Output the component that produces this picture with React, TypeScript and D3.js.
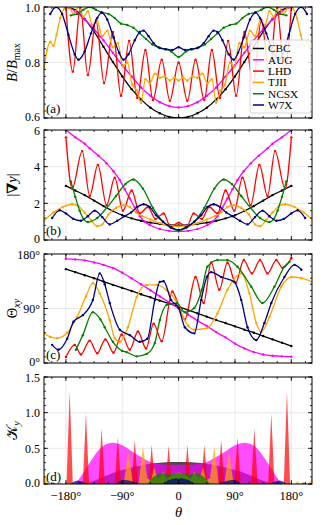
import * as d3 from 'd3';
import { useEffect, useRef } from 'react';

type Pt = [number, number];

const seriesNames = ['CBC', 'AUG', 'LHD', 'TJII', 'NCSX', 'W7X'];
const seriesColors = ['#000000', '#ff00ff', '#ff0000', '#ffa500', '#008000', '#000080'];

const thetaTicks = [-180, -90, 0, 90, 180];
const thetaTickLabels = ['\u2212180°', '\u221290°', '0', '90°', '180°'];

// (a) B/Bmax
const cbcB: Pt[] = [[-180,1.0],[-165,0.989],[-150,0.957],[-135,0.911],[-120,0.857],[-105,0.802],[-90,0.75],[-75,0.704],[-60,0.667],[-45,0.637],[-30,0.617],[-15,0.604],[0,0.6],[15,0.604],[30,0.617],[45,0.637],[60,0.667],[75,0.704],[90,0.75],[105,0.802],[120,0.857],[135,0.911],[150,0.957],[165,0.989],[180,1.0]];
const augB: Pt[] = [[-180,1.0],[-165,0.985],[-150,0.955],[-135,0.92],[-120,0.88],[-105,0.835],[-90,0.79],[-75,0.75],[-60,0.71],[-45,0.68],[-30,0.657],[-15,0.643],[0,0.638],[15,0.643],[30,0.657],[45,0.68],[60,0.71],[75,0.75],[90,0.79],[105,0.835],[120,0.88],[135,0.92],[150,0.955],[165,0.985],[180,1.0]];
const lhdB: Pt[] = [[-180,1.0],[-169,0.767],[-157,1.0],[-145,0.755],[-132,0.953],[-119,0.726],[-105,0.91],[-92,0.68],[-79,0.878],[-66,0.672],[-53,0.845],[-41,0.665],[-27,0.81],[-14,0.662],[0,0.8],[14,0.662],[27,0.81],[41,0.665],[53,0.845],[66,0.672],[79,0.878],[92,0.68],[105,0.91],[119,0.726],[132,0.953],[145,0.755],[157,1.0],[169,0.767],[180,1.0]];
const tjiiB: Pt[] = [[-215,0.78],[-210,0.845],[-205,0.875],[-200,0.86],[-195,0.9],[-189,0.96],[-182,0.995],[-175,1.0],[-168,0.975],[-160,1.0],[-152,0.965],[-145,0.985],[-138,0.935],[-130,0.95],[-122,0.895],[-114,0.915],[-105,0.855],[-97,0.87],[-89,0.785],[-82,0.8],[-74,0.72],[-67,0.7],[-60,0.655],[-53,0.74],[-46,0.725],[-38,0.76],[-30,0.745],[-22,0.75],[-14,0.735],[-7,0.745],[0,0.735],[7,0.745],[14,0.735],[22,0.75],[30,0.745],[38,0.76],[46,0.725],[53,0.74],[60,0.655],[67,0.7],[74,0.72],[82,0.8],[89,0.785],[97,0.87],[105,0.855],[114,0.915],[122,0.895],[130,0.95],[138,0.935],[145,0.985],[152,0.965],[160,1.0],[168,0.975],[175,1.0],[182,0.995],[189,0.96],[195,0.9],[200,0.86],[205,0.875],[210,0.845],[215,0.78]];
const ncsxB: Pt[] = [[-172,0.97],[-162,0.975],[-152,0.99],[-142,1.0],[-132,0.99],[-122,0.98],[-112,0.975],[-102,0.96],[-92,0.94],[-82,0.935],[-72,0.925],[-62,0.905],[-52,0.885],[-42,0.865],[-32,0.855],[-22,0.848],[-12,0.84],[0,0.82],[12,0.84],[22,0.848],[32,0.855],[42,0.865],[52,0.885],[62,0.905],[72,0.925],[82,0.935],[92,0.94],[102,0.96],[112,0.975],[122,0.98],[132,0.99],[142,1.0],[152,0.99],[162,0.975],[172,0.97]];
const w7xB: Pt[] = [[-205,0.975],[-196,1.0],[-186,0.975],[-176,0.9],[-166,0.83],[-160,0.81],[-150,0.84],[-140,0.905],[-130,0.96],[-123,0.98],[-114,0.955],[-104,0.89],[-95,0.835],[-88,0.81],[-80,0.83],[-70,0.88],[-62,0.91],[-56,0.915],[-48,0.895],[-40,0.87],[-30,0.852],[-20,0.848],[-10,0.845],[0,0.855],[10,0.845],[20,0.848],[30,0.852],[40,0.87],[48,0.895],[56,0.915],[62,0.91],[70,0.88],[80,0.83],[88,0.81],[95,0.835],[104,0.89],[114,0.955],[123,0.98],[130,0.96],[140,0.905],[150,0.84],[160,0.81],[166,0.83],[176,0.9],[186,0.975],[196,1.0],[205,0.975]];

// (b) |grad y|
const cbcGrad: Pt[] = [[-180,2.95],[-165,2.7],[-150,2.45],[-135,2.15],[-120,1.85],[-105,1.58],[-90,1.35],[-75,1.18],[-60,1.05],[-45,0.95],[-30,0.87],[-15,0.82],[0,0.8],[15,0.82],[30,0.87],[45,0.95],[60,1.05],[75,1.18],[90,1.35],[105,1.58],[120,1.85],[135,2.15],[150,2.45],[165,2.7],[180,2.95]];
const augGrad: Pt[] = [[-180,6.0],[-165,5.6],[-150,5.25],[-142,5.0],[-128,4.6],[-115,4.18],[-104,3.75],[-94,3.27],[-86,2.77],[-78,2.27],[-70,1.77],[-62,1.3],[-54,1.0],[-46,0.82],[-30,0.6],[-15,0.5],[0,0.47],[15,0.5],[30,0.6],[46,0.82],[54,1.0],[62,1.3],[70,1.77],[78,2.27],[86,2.77],[94,3.27],[104,3.75],[115,4.18],[128,4.6],[142,5.0],[150,5.25],[165,5.6],[180,6.0]];
const lhdGrad: Pt[] = [[-180,5.6],[-170,2.8],[-154,4.85],[-142,2.4],[-129,4.1],[-115,1.9],[-102,3.4],[-89,1.6],[-75,2.7],[-62,1.45],[-49,1.8],[-37,1.15],[-24,1.45],[-13,0.72],[0,0.95],[13,0.72],[24,1.45],[37,1.15],[49,1.8],[62,1.45],[75,2.7],[89,1.6],[102,3.4],[115,1.9],[129,4.1],[142,2.4],[154,4.85],[170,2.8],[180,5.6]];
const tjiiGrad: Pt[] = [[-215,1.05],[-200,1.5],[-185,1.8],[-170,1.95],[-160,1.85],[-150,1.5],[-140,1.1],[-130,0.75],[-122,0.85],[-112,1.4],[-100,1.75],[-88,1.9],[-78,1.8],[-68,1.5],[-58,1.3],[-45,1.12],[-30,0.92],[-15,0.78],[0,0.74],[15,0.78],[30,0.92],[45,1.12],[58,1.3],[68,1.5],[78,1.8],[88,1.9],[100,1.75],[112,1.4],[122,0.85],[130,0.75],[140,1.1],[150,1.5],[160,1.85],[170,1.95],[185,1.8],[200,1.5],[215,1.05]];
const ncsxGrad: Pt[] = [[-172,3.2],[-165,2.35],[-158,1.6],[-152,1.15],[-145,0.98],[-130,1.2],[-115,1.75],[-100,2.4],[-85,3.05],[-72,3.3],[-57,2.8],[-41,1.75],[-25,1.0],[-12,0.65],[0,0.52],[12,0.65],[25,1.0],[41,1.75],[57,2.8],[72,3.3],[85,3.05],[100,2.4],[115,1.75],[130,1.2],[145,0.98],[152,1.15],[158,1.6],[165,2.35],[172,3.2]];
const w7xGrad: Pt[] = [[-202,1.2],[-190,1.62],[-180,1.45],[-168,1.15],[-156,1.05],[-145,1.3],[-134,1.6],[-122,1.25],[-110,0.85],[-98,1.05],[-86,1.3],[-76,1.5],[-66,1.8],[-56,1.95],[-46,1.8],[-36,1.35],[-25,1.0],[-12,0.7],[0,0.55],[12,0.7],[25,1.0],[36,1.35],[46,1.8],[56,1.95],[66,1.8],[76,1.5],[86,1.3],[98,1.05],[110,0.85],[122,1.25],[134,1.6],[145,1.3],[156,1.05],[168,1.15],[180,1.45],[190,1.62],[202,1.2]];

// (c) Theta_xy in degrees
const cbcTheta: Pt[] = [[-180,155],[-165,150],[-150,145],[-135,140],[-120,134.5],[-105,129],[-90,124],[-75,119],[-60,113.5],[-45,108.5],[-30,103],[-15,98],[0,93],[15,87.5],[30,82],[45,76.5],[60,71],[75,66],[90,60.5],[105,55],[120,50],[135,44.5],[150,39],[165,33.5],[180,28]];
const augTheta: Pt[] = [[-180,172],[-165,171],[-150,169.5],[-135,166],[-120,162],[-105,157],[-90,149],[-75,140],[-60,130],[-45,120],[-30,110],[-15,100],[0,90],[15,80],[30,70],[45,61],[60,51],[75,42],[90,32],[105,24],[120,18],[135,14],[150,12],[165,11],[180,10.5]];
const lhdTheta: Pt[] = [[-180,10],[-166,30],[-156,14],[-142,37],[-130,16],[-117,39],[-104,17],[-91,47],[-78,22],[-65,52],[-52,24],[-40,65],[-27,36],[-10,118],[0,95],[10,72],[27,142],[40,99],[52,166],[65,121],[78,166],[91,132],[104,170],[117,148],[130,170],[142,148],[156,170],[166,157],[180,173]];
const tjiiTheta: Pt[] = [[-215,49],[-205,43],[-194,41],[-178,50],[-162,76],[-148,110],[-137,132],[-126,115],[-110,71],[-102,41],[-94,35],[-81,59],[-67,109],[-51,129],[-35,129],[-19,120],[-5,104],[5,80],[15,62],[25,55],[46,58],[62,82],[78,121],[100,148],[113,115],[124,66],[132,51],[145,76],[164,126],[180,142],[196,140],[213,134]];
const ncsxTheta: Pt[] = [[-164,22],[-153,46],[-137,84],[-125,72],[-118,59],[-105,35],[-90,20],[-83,18],[-67,11],[-51,15],[-38,33],[-30,71],[-19,96],[-3,99],[10,84],[25,91],[37,121],[46,159],[62,170],[78,170],[94,159],[116,126],[134,99],[153,126],[169,159],[177,167]];
const w7xTheta: Pt[] = [[-202,30],[-192,22],[-178,40],[-168,68],[-153,79],[-137,104],[-126,148],[-118,130],[-110,99],[-94,55],[-78,46],[-62,35],[-50,40],[-38,104],[-30,134],[-24,135],[-12,104],[0,91],[10,59],[25,49],[36,104],[45,142],[52,150],[68,142],[89,134],[100,104],[110,59],[124,38],[137,66],[148,99],[169,142],[185,162],[196,154]];

// (d) K_y (filled)
const cbcK: Pt[] = [[-155,0],[-140,0.03],[-120,0.1],[-100,0.17],[-80,0.22],[-60,0.26],[-40,0.29],[-20,0.305],[0,0.31],[20,0.305],[40,0.29],[60,0.26],[80,0.22],[100,0.17],[120,0.1],[140,0.03],[155,0]];
const augK: Pt[] = [[-165,0],[-155,0.12],[-145,0.26],[-135,0.39],[-125,0.5],[-115,0.56],[-104,0.58],[-95,0.56],[-85,0.52],[-75,0.46],[-60,0.38],[-45,0.31],[-30,0.28],[-15,0.27],[0,0.27],[15,0.27],[30,0.28],[45,0.31],[60,0.38],[75,0.46],[85,0.52],[95,0.56],[104,0.58],[115,0.56],[125,0.5],[135,0.39],[145,0.26],[155,0.12],[165,0]];
const lhdSpikeTheta = [-174, -148, -123, -97, -70, -43, -16, 14, 41, 68, 94, 121, 148, 173];
const lhdSpikeK = [1.3, 0.99, 0.78, 0.66, 0.62, 0.55, 0.54, 0.55, 0.55, 0.62, 0.66, 0.78, 0.99, 1.3];
const tjiiK: Pt[] = [[-215,0.14],[-211,0.05],[-207,0],[-194,0],[-190,0.04],[-186,0],[-88,0],[-80,0.45],[-73,0],[-64,0],[-57,0.53],[-50,0.08],[-44,0.05],[-39,0.24],[-34,0.08],[-30,0.1],[-25,0.17],[-19,0.07],[-11,0.13],[0,0.16],[11,0.13],[19,0.07],[25,0.17],[30,0.1],[34,0.08],[39,0.24],[44,0.05],[50,0.08],[57,0.53],[64,0],[73,0],[80,0.45],[88,0],[186,0],[190,0.04],[194,0],[207,0],[211,0.05],[215,0.14]];
const ncsxK: Pt[] = [[-50,0],[-45,0.06],[-40,0.1],[-32,0.14],[-25,0.15],[-18,0.13],[-10,0.14],[0,0.15],[10,0.14],[18,0.13],[25,0.15],[32,0.14],[40,0.1],[45,0.06],[50,0]];
const w7xK: Pt[] = [[-205,0],[-200,0.02],[-195,0],[-172,0],[-168,0.03],[-162,0.05],[-156,0.04],[-150,0.02],[-144,0],[-100,0],[-95,0.04],[-88,0.06],[-80,0.05],[-72,0.03],[-66,0],[-25,0],[-18,0.05],[-10,0.07],[-4,0.08],[0,0.07],[4,0.08],[10,0.07],[18,0.05],[25,0],[66,0],[72,0.03],[80,0.05],[88,0.06],[95,0.04],[100,0],[144,0],[150,0.02],[156,0.04],[162,0.05],[168,0.03],[172,0],[195,0],[200,0.02],[205,0]];

const yTicksA = [0.6, 0.8, 1.0];
const yLabelsA = ['0.6', '0.8', '1.0'];
const yTicksB = [0, 2, 4, 6];
const yLabelsB = ['0', '2', '4', '6'];
const yTicksC = [0, 90, 180];
const yLabelsC = ['0°', '90°', '180°'];
const yTicksD = [0, 0.5, 1.0, 1.5];
const yLabelsD = ['0.0', '0.5', '1.0', '1.5'];

const FONT = "'Liberation Serif', 'DejaVu Serif', serif";

export default function App() {
  const svgRef = useRef<SVGSVGElement>(null);

  useEffect(() => {
    if (svgRef.current) drawChart(svgRef.current);
  }, []);

  return (
    <svg ref={svgRef} width={324} height={525}
      style={{ position: 'absolute', left: 0, top: 0, background: 'white' }} />
  );
}

function drawChart(node: SVGSVGElement) {
  const svg = d3.select(node);
  svg.selectAll('*').remove();

  const x = d3.scaleLinear().domain([-215, 213]).range([44, 312]);
  const L = 44, R = 312;

  const spikes: Pt[] = lhdSpikeTheta.flatMap((t, i) => [[t - 5, 0], [t, lhdSpikeK[i]], [t + 5, 0]] as Pt[]);

  const panels = [
    { id: 'a', top: 7, bottom: 118, domain: [0.6, 1.0], ticks: yTicksA, labels: yLabelsA, minor: 0.025, grid: [0.8],
      tag: '(a)', tagY: 113, kind: 'line', data: [cbcB, augB, lhdB, tjiiB, ncsxB, w7xB],
      ylab: [{ t: 'B', i: true }, { t: '/' }, { t: 'B', i: true }, { t: 'max', sub: true }] },
    { id: 'b', top: 130, bottom: 240, domain: [0, 6], ticks: yTicksB, labels: yLabelsB, minor: 0.4, grid: [2, 4],
      tag: '(b)', tagY: 235, kind: 'line', data: [cbcGrad, augGrad, lhdGrad, tjiiGrad, ncsxGrad, w7xGrad],
      ylab: [{ t: '|' }, { t: '\u2207', b: true }, { t: 'y', i: true }, { t: '|' }] },
    { id: 'c', top: 254, bottom: 363, domain: [0, 180], ticks: yTicksC, labels: yLabelsC, minor: 10, grid: [90],
      tag: '(c)', tagY: 359, kind: 'line', data: [cbcTheta, augTheta, lhdTheta, tjiiTheta, ncsxTheta, w7xTheta],
      ylab: [{ t: '\u0398' }, { t: 'xy', i: true, sub: true }] },
    { id: 'd', top: 377, bottom: 484, domain: [0, 1.5], ticks: yTicksD, labels: yLabelsD, minor: 0.1, grid: [0.5, 1.0],
      tag: '(d)', tagY: 481, kind: 'area', data: [cbcK, augK, spikes, tjiiK, ncsxK, w7xK],
      ylab: [{ t: '\uD835\uDCA6' }, { t: 'y', i: true, sub: true }] },
  ];

  const xMinor = d3.range(-202.5, 203, 22.5);

  panels.forEach(p => {
    const y = d3.scaleLinear().domain(p.domain).range([p.bottom, p.top]);
    const g = svg.append('g');

    g.append('clipPath').attr('id', 'clip-' + p.id)
      .append('rect').attr('x', L).attr('y', p.top).attr('width', R - L).attr('height', p.bottom - p.top);

    // grid
    g.selectAll('.gx').data(thetaTicks).enter().append('line')
      .attr('x1', d => x(d)).attr('x2', d => x(d)).attr('y1', p.top).attr('y2', p.bottom)
      .attr('stroke', '#e3e3e3').attr('stroke-width', 0.8);
    g.selectAll('.gy').data(p.grid).enter().append('line')
      .attr('x1', L).attr('x2', R).attr('y1', d => y(d)).attr('y2', d => y(d))
      .attr('stroke', '#e3e3e3').attr('stroke-width', 0.8);

    // panel tag
    g.append('text').attr('x', 46).attr('y', p.tagY).text(p.tag)
      .attr('font-family', FONT).attr('font-size', 13);

    const plot = g.append('g').attr('clip-path', `url(#clip-${p.id})`);

    if (p.kind === 'line') {
      const line = d3.line<Pt>().x(d => x(d[0])).y(d => y(d[1])).curve(d3.curveMonotoneX);
      p.data.forEach((s, i) => {
        plot.append('path').datum(s).attr('d', line)
          .attr('fill', 'none').attr('stroke', seriesColors[i]).attr('stroke-width', 1.3);
        plot.selectAll(null).data(s).enter().append('circle')
          .attr('cx', d => x(d[0])).attr('cy', d => y(d[1])).attr('r', 1.2)
          .attr('fill', seriesColors[i]);
      });
    } else {
      p.data.forEach((s, i) => {
        const smooth = i === 0 || i === 1 || i === 4;
        const area = d3.area<Pt>().x(d => x(d[0])).y0(y(0)).y1(d => y(d[1]))
          .curve(smooth ? d3.curveMonotoneX : d3.curveLinear);
        plot.append('path').datum(s).attr('d', area)
          .attr('fill', seriesColors[i]).attr('fill-opacity', 0.7);
      });
    }

    // frame
    g.append('rect').attr('x', L).attr('y', p.top).attr('width', R - L).attr('height', p.bottom - p.top)
      .attr('fill', 'none').attr('stroke', 'black').attr('stroke-width', 1);

    // x ticks (inward, bottom + top)
    const tk = g.append('g').attr('stroke', 'black').attr('stroke-width', 0.8);
    thetaTicks.forEach(t => {
      tk.append('line').attr('x1', x(t)).attr('x2', x(t)).attr('y1', p.bottom).attr('y2', p.bottom - 4);
      tk.append('line').attr('x1', x(t)).attr('x2', x(t)).attr('y1', p.top).attr('y2', p.top + 4);
    });
    xMinor.forEach(t => {
      tk.append('line').attr('x1', x(t)).attr('x2', x(t)).attr('y1', p.bottom).attr('y2', p.bottom - 2);
      tk.append('line').attr('x1', x(t)).attr('x2', x(t)).attr('y1', p.top).attr('y2', p.top + 2);
    });
    // y ticks (inward, left + right)
    p.ticks.forEach(v => {
      tk.append('line').attr('x1', L).attr('x2', L + 4).attr('y1', y(v)).attr('y2', y(v));
      tk.append('line').attr('x1', R).attr('x2', R - 4).attr('y1', y(v)).attr('y2', y(v));
    });
    d3.range(p.domain[0], p.domain[1] + 1e-9, p.minor).forEach(v => {
      tk.append('line').attr('x1', L).attr('x2', L + 2).attr('y1', y(v)).attr('y2', y(v));
      tk.append('line').attr('x1', R).attr('x2', R - 2).attr('y1', y(v)).attr('y2', y(v));
    });

    // y tick labels (end labels nudged inward so neighbouring panels' labels don't collide)
    const nT = p.ticks.length;
    g.selectAll(null).data(p.ticks).enter().append('text')
      .attr('x', 40)
      .attr('y', (d, i) => y(d) + 4.2 + (i === 0 ? -1 : i === nT - 1 ? 1 : 0))
      .attr('text-anchor', 'end')
      .attr('font-family', FONT).attr('font-size', 12)
      .text((d, i) => p.labels[i]);

    // y label
    const yl = g.append('text')
      .attr('transform', `translate(17,${(p.top + p.bottom) / 2}) rotate(-90)`)
      .attr('text-anchor', 'middle').attr('font-family', FONT).attr('font-size', 14.5);
    let shifted = 0;
    p.ylab.forEach((part: any) => {
      const ts = yl.append('tspan').text(part.t);
      if (part.i) ts.attr('font-style', 'italic');
      if (part.b) ts.attr('font-weight', 'bold');
      if (part.sub) { ts.attr('font-size', 10).attr('dy', 3 - shifted); shifted = 3; }
      else if (shifted) { ts.attr('dy', -shifted); shifted = 0; }
    });

    if (p.id === 'd') {
      g.selectAll(null).data(thetaTicks).enter().append('text')
        .attr('x', d => x(d)).attr('y', p.bottom + 16).attr('text-anchor', 'middle')
        .attr('font-family', FONT).attr('font-size', 12.5)
        .text((d, i) => thetaTickLabels[i]);
      g.append('text').attr('x', x(0)).attr('y', p.bottom + 33).attr('text-anchor', 'middle')
        .attr('font-family', FONT).attr('font-size', 14.5).attr('font-style', 'italic').text('\u03B8');
    }
  });

  // legend in panel (a)
  const lg = svg.append('g');
  lg.append('rect').attr('x', 250).attr('y', 40).attr('width', 61).attr('height', 73).attr('rx', 2)
    .attr('fill', 'white').attr('fill-opacity', 0.85).attr('stroke', '#cccccc').attr('stroke-width', 0.8);
  seriesNames.forEach((name, i) => {
    const ry = 48.5 + i * 11.3;
    lg.append('line').attr('x1', 253).attr('x2', 264).attr('y1', ry).attr('y2', ry)
      .attr('stroke', seriesColors[i]).attr('stroke-width', 1.5);
    lg.append('text').attr('x', 268).attr('y', ry + 3.8).text(name)
      .attr('font-family', FONT).attr('font-size', 11.3);
  });
}
